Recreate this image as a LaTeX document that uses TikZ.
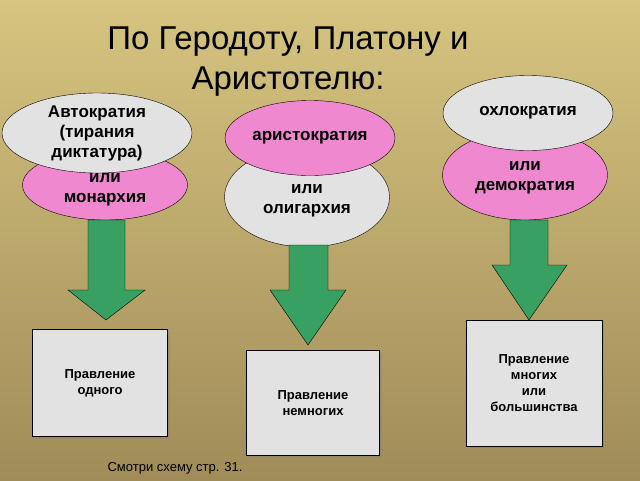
\documentclass[tikz,border=0pt]{standalone}
\usepackage{fontspec}
\setmainfont{Liberation Sans}
\usetikzlibrary{shadows,shapes.geometric}
\definecolor{bgtop}{RGB}{214,196,128}
\definecolor{bgbot}{RGB}{160,140,88}
\definecolor{pinkfill}{RGB}{240,136,208}
\definecolor{grayfill}{RGB}{226,226,226}
\definecolor{arrowgreen}{RGB}{56,160,96}
\begin{document}
\begin{tikzpicture}[x=1pt,y=-1pt,
    pinkell/.style={ellipse, draw=black, fill=pinkfill, inner sep=0pt, align=center, font=\bfseries\fontsize{17}{20}\selectfont},
    grayell/.style={ellipse, draw=black, fill=grayfill, inner sep=0pt, align=center, font=\bfseries\fontsize{17}{20}\selectfont},
    infobox/.style={draw=black, fill=grayfill, inner sep=0pt, align=center, font=\bfseries\fontsize{13}{16}\selectfont, drop shadow={shadow xshift=2pt, shadow yshift=-2pt, opacity=0.4}},
    downarrow/.style={draw=black, fill=arrowgreen}
]
\shade[top color=bgtop, bottom color=bgbot] (0,0) rectangle (640,480);
\useasboundingbox (0,0) rectangle (640,480);

% title
\node[align=center, font=\fontsize{33}{40}\selectfont] (title) at (288,62) {По Геродоту, Платону и\\Аристотелю:};

% left pair
\node[pinkell, minimum width=165, minimum height=70] (monarchy) at (105,185) {\\[-2pt]или\\монархия};
\node[grayell, minimum width=190, minimum height=80] (autocracy) at (97,133) {Автократия\\(тирания\\диктатура)};

% middle pair
\node[grayell, minimum width=165, minimum height=100] (oligarchy) at (307,197) {\\[-4pt]или\\олигархия};
\node[pinkell, minimum width=170, minimum height=75] (aristocracy) at (310,138) {аристократия};

% right pair
\node[pinkell, minimum width=165, minimum height=90] (democracy) at (525,175) {\\[-6pt]или\\демократия};
\node[grayell, minimum width=170, minimum height=75] (ochlocracy) at (528,113) {охлократия};

% arrows
\draw[downarrow] (88,220) -- (125,220) -- (125,290) -- (145,290) -- (106,320) -- (68,290) -- (88,290) -- cycle;
\draw[downarrow] (289,245) -- (328,245) -- (328,290) -- (346,290) -- (308,345) -- (270,290) -- (289,290) -- cycle;
\draw[downarrow] (510,220) -- (548,220) -- (548,265) -- (567,265) -- (529,320) -- (492,265) -- (510,265) -- cycle;

% boxes
\node[infobox, minimum width=135, minimum height=107] (one) at (100,383) {Правление\\одного};
\node[infobox, minimum width=133, minimum height=105] (few) at (313,403) {Правление\\немногих};
\node[infobox, minimum width=136, minimum height=126] (many) at (534,383) {Правление\\многих\\или\\большинства};

% note
\node[font=\fontsize{13}{15}\selectfont] (note) at (175,468) {Смотри схему стр. 31.};
\end{tikzpicture}
\end{document}
